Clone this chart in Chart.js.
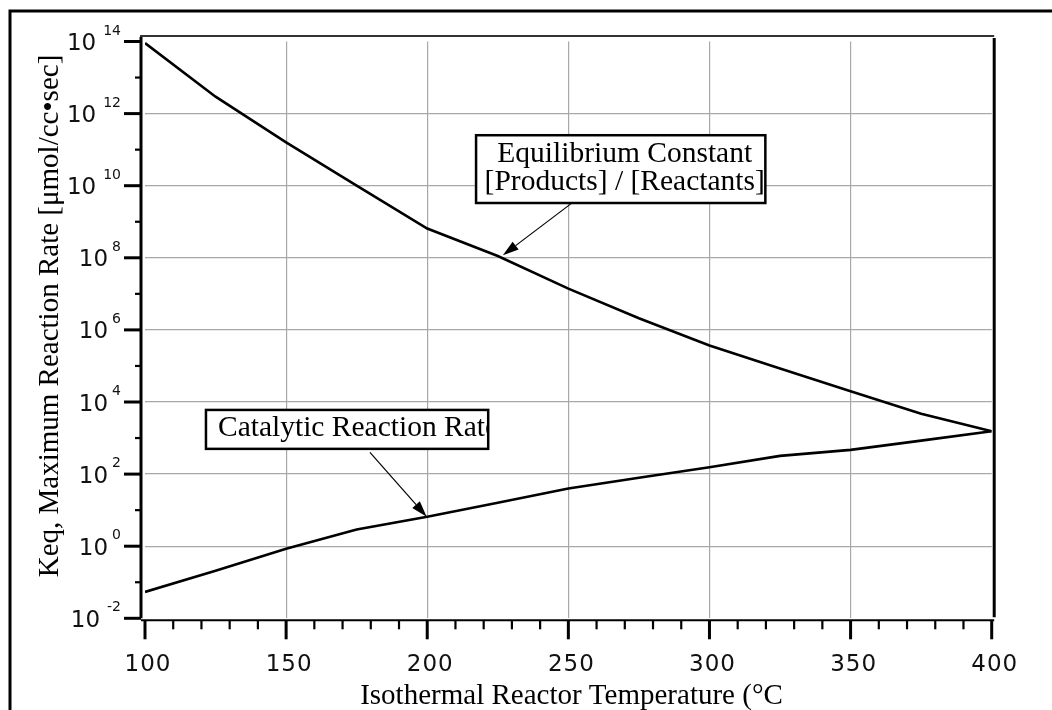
<!DOCTYPE html>
<html>
<head>
<meta charset="utf-8">
<script src="https://cdn.jsdelivr.net/npm/chart.js@4/dist/chart.umd.min.js"></script>
<style>
    html, body { margin: 0; padding: 0; background: #fff; }
    #wrap { width: 1052px; height: 710px; }
</style>
</head>
<body>
<div id="wrap"><canvas id="chart" width="1052" height="710"></canvas></div>
<script>
// Data
const temps = [100, 125, 150, 175, 200, 225, 250, 275, 300, 325, 350, 375, 400];
const keqValues = [9.0e13, 2.95e12, 1.6e11, 1.0e10, 6.5e8, 1.12e8, 1.4e7, 2.1e6, 3.7e5, 8.5e4, 2.0e4, 4.7e3, 1.55e3];
const rateValues = [0.054, 0.21, 0.85, 2.9, 6.6, 16, 40, 79, 155, 320, 470, 850, 1550];

const xTicks = [100, 150, 200, 250, 300, 350, 400];
const yExponents = [-2, 0, 2, 4, 6, 8, 10, 12, 14];

const xTitle = 'Isothermal Reactor Temperature (°C';
const yTitle = 'Keq, Maximum Reaction Rate [μmol/cc•sec]';

// Callouts, placed in data units
const callouts = [
    { lines: ['Equilibrium Constant', '[Products] / [Reactants]'], x0: 217.3, x1: 319.8, y0: 11.40, y1: 9.52,
      from: [251.1, 9.51], to: [226.8, 8.07], align: 'center' },
    { lines: ['Catalytic Reaction Rate'], x0: 121.6, x1: 221.6, y0: 3.78, y1: 2.70,
      from: [179.7, 2.60], to: [199.8, 0.82], align: 'left' }
];

const SANS = '"DejaVu Sans", sans-serif';
const SERIF = '"Liberation Serif", "Times New Roman", serif';

function arrow(ctx, x1, y1, x2, y2) {
    const a = Math.atan2(y2 - y1, x2 - x1);
    const len = 16, hw = 5;
    ctx.beginPath();
    ctx.moveTo(x1, y1);
    ctx.lineTo(x2 - Math.cos(a) * len, y2 - Math.sin(a) * len);
    ctx.lineWidth = 1.2;
    ctx.strokeStyle = '#000';
    ctx.stroke();
    ctx.beginPath();
    ctx.moveTo(x2, y2);
    ctx.lineTo(x2 - Math.cos(a) * len - Math.sin(a) * hw, y2 - Math.sin(a) * len + Math.cos(a) * hw);
    ctx.lineTo(x2 - Math.cos(a) * len + Math.sin(a) * hw, y2 - Math.sin(a) * len - Math.cos(a) * hw);
    ctx.closePath();
    ctx.fillStyle = '#000';
    ctx.fill();
}

const framePlugin = {
    id: 'frame',
    beforeDraw(chart) {
        const ctx = chart.ctx;
        ctx.save();
        ctx.fillStyle = '#fff';
        ctx.fillRect(0, 0, chart.width, chart.height);
        ctx.restore();
    },
    afterDatasetsDraw(chart) {
        const ctx = chart.ctx;
        const xs = chart.scales.x, ys = chart.scales.y;
        ctx.save();
        callouts.forEach(c => {
            const l = xs.getPixelForValue(c.x0), r = xs.getPixelForValue(c.x1);
            const t = ys.getPixelForValue(Math.pow(10, c.y0)), b = ys.getPixelForValue(Math.pow(10, c.y1));
            ctx.fillStyle = '#fff';
            ctx.fillRect(l, t, r - l, b - t);
            ctx.save();
            ctx.beginPath();
            ctx.rect(l, t, r - l, b - t);
            ctx.clip();
            ctx.fillStyle = '#000';
            ctx.font = '29.5px ' + SERIF;
            ctx.textBaseline = 'alphabetic';
            c.lines.forEach((s, i) => {
                const y = t + 26.5 + i * 28.5;
                if (c.align === 'center') {
                    ctx.textAlign = 'center';
                    ctx.fillText(s, (l + r) / 2 + 4, y);
                } else {
                    ctx.textAlign = 'left';
                    ctx.fillText(s, l + 12, y);
                }
            });
            ctx.restore();
            ctx.lineWidth = 2.5;
            ctx.strokeStyle = '#000';
            ctx.strokeRect(l, t, r - l, b - t);
            arrow(ctx,
                xs.getPixelForValue(c.from[0]), ys.getPixelForValue(Math.pow(10, c.from[1])),
                xs.getPixelForValue(c.to[0]), ys.getPixelForValue(Math.pow(10, c.to[1])));
        });
        ctx.restore();
    },
    afterDraw(chart) {
        const ctx = chart.ctx;
        const xs = chart.scales.x, ys = chart.scales.y;
        const area = chart.chartArea;
        const axL = area.left - 4, axB = area.bottom + 2, axT = area.top - 5.5, axR = area.right + 2.5;
        ctx.save();
        ctx.lineCap = 'butt';

        // outer frame (cut by the page edge)
        ctx.strokeStyle = '#000';
        ctx.lineWidth = 3;
        ctx.beginPath();
        ctx.moveTo(10, chart.height);
        ctx.lineTo(10, 11);
        ctx.lineTo(chart.width, 11);
        ctx.stroke();

        // axes box
        ctx.strokeStyle = '#333';
        ctx.lineWidth = 2;
        ctx.beginPath();
        ctx.moveTo(axL - 1, axT);
        ctx.lineTo(axR, axT);
        ctx.stroke();
        ctx.strokeStyle = '#000';
        ctx.lineWidth = 3;
        ctx.beginPath();
        ctx.moveTo(axL, axT + 1);
        ctx.lineTo(axL, area.bottom);
        ctx.moveTo(axR, axT + 2);
        ctx.lineTo(axR, area.bottom - 1);
        ctx.stroke();
        ctx.lineWidth = 2;
        ctx.beginPath();
        ctx.moveTo(axL, axB);
        ctx.lineTo(axR, axB);
        ctx.stroke();

        // x ticks
        xTicks.forEach((v, i) => {
            const px = xs.getPixelForValue(v);
            ctx.lineWidth = 3;
            ctx.beginPath();
            ctx.moveTo(px, axB);
            ctx.lineTo(px, axB + 19);
            ctx.stroke();
            if (i < xTicks.length - 1) {
                const step = (xTicks[i + 1] - v) / 5;
                for (let k = 1; k < 5; k++) {
                    const mx = xs.getPixelForValue(v + k * step);
                    ctx.lineWidth = 2.2;
                    ctx.beginPath();
                    ctx.moveTo(mx, axB);
                    ctx.lineTo(mx, axB + 9);
                    ctx.stroke();
                }
            }
        });
        ctx.fillStyle = '#111';
        ctx.font = '23px ' + SANS;
        ctx.letterSpacing = '1px';
        ctx.textAlign = 'center';
        ctx.textBaseline = 'alphabetic';
        xTicks.forEach(v => {
            ctx.fillText(String(v), xs.getPixelForValue(v) + 3, 670.5);
        });
        ctx.letterSpacing = '0px';

        // y ticks
        const firstExp = yExponents[0], lastExp = yExponents[yExponents.length - 1];
        for (let e = firstExp; e <= lastExp; e++) {
            const py = ys.getPixelForValue(Math.pow(10, e));
            const major = yExponents.includes(e);
            ctx.lineWidth = major ? 3 : 2.2;
            ctx.beginPath();
            ctx.moveTo(major ? axL - 17 : axL - 6, py);
            ctx.lineTo(axL, py);
            ctx.stroke();
        }
        yExponents.forEach(e => {
            const py = ys.getPixelForValue(Math.pow(10, e));
            const exp = String(e);
            ctx.textAlign = 'right';
            ctx.font = '14px ' + SANS;
            const ew = ctx.measureText(exp).width;
            ctx.fillText(exp, 121, py - 7);
            ctx.font = '23px ' + SANS;
            ctx.fillText('10', 121 - ew - 4 - 3 * (exp.length - 1), py + 8.5);
        });

        // axis titles
        ctx.fillStyle = '#000';
        ctx.font = '29px ' + SERIF;
        ctx.textAlign = 'center';
        ctx.fillText(xTitle, 571.5, 704);
        ctx.save();
        ctx.translate(58, 316);
        ctx.rotate(-Math.PI / 2);
        ctx.fillText(yTitle, 0, 0);
        ctx.restore();

        ctx.restore();
    }
};

const gridColor = '#a8a8a8';

new Chart(document.getElementById('chart'), {
    type: 'line',
    data: {
        datasets: [
            {
                label: 'Equilibrium Constant',
                data: temps.map((t, i) => ({ x: t, y: keqValues[i] })),
                borderColor: '#000',
                borderWidth: 2.6,
                pointRadius: 0,
                tension: 0,
                fill: false
            },
            {
                label: 'Catalytic Reaction Rate',
                data: temps.map((t, i) => ({ x: t, y: rateValues[i] })),
                borderColor: '#000',
                borderWidth: 2.6,
                pointRadius: 0,
                tension: 0,
                fill: false
            }
        ]
    },
    options: {
        responsive: false,
        animation: false,
        layout: { padding: { left: 145, top: 41.5, right: 60.3, bottom: 91.7 } },
        plugins: {
            legend: { display: false },
            tooltip: { enabled: false }
        },
        scales: {
            x: {
                type: 'linear',
                min: xTicks[0],
                max: xTicks[xTicks.length - 1],
                afterBuildTicks: s => { s.ticks = xTicks.map(v => ({ value: v })); },
                ticks: { display: false },
                border: { display: false },
                grid: {
                    drawTicks: false,
                    lineWidth: 1.2,
                    color: c => (c.tick && (c.tick.value === xTicks[0] || c.tick.value === xTicks[xTicks.length - 1])) ? 'rgba(0,0,0,0)' : gridColor
                }
            },
            y: {
                type: 'logarithmic',
                min: Math.pow(10, yExponents[0]),
                max: Math.pow(10, yExponents[yExponents.length - 1]),
                afterBuildTicks: s => { s.ticks = yExponents.map(e => ({ value: Math.pow(10, e) })); },
                ticks: { display: false },
                border: { display: false },
                grid: {
                    drawTicks: false,
                    lineWidth: 1.2,
                    color: c => {
                        if (!c.tick) return gridColor;
                        const e = Math.round(Math.log10(c.tick.value));
                        return (e === yExponents[0] || e === yExponents[yExponents.length - 1]) ? 'rgba(0,0,0,0)' : gridColor;
                    }
                }
            }
        }
    },
    plugins: [framePlugin]
});
</script>
</body>
</html>
